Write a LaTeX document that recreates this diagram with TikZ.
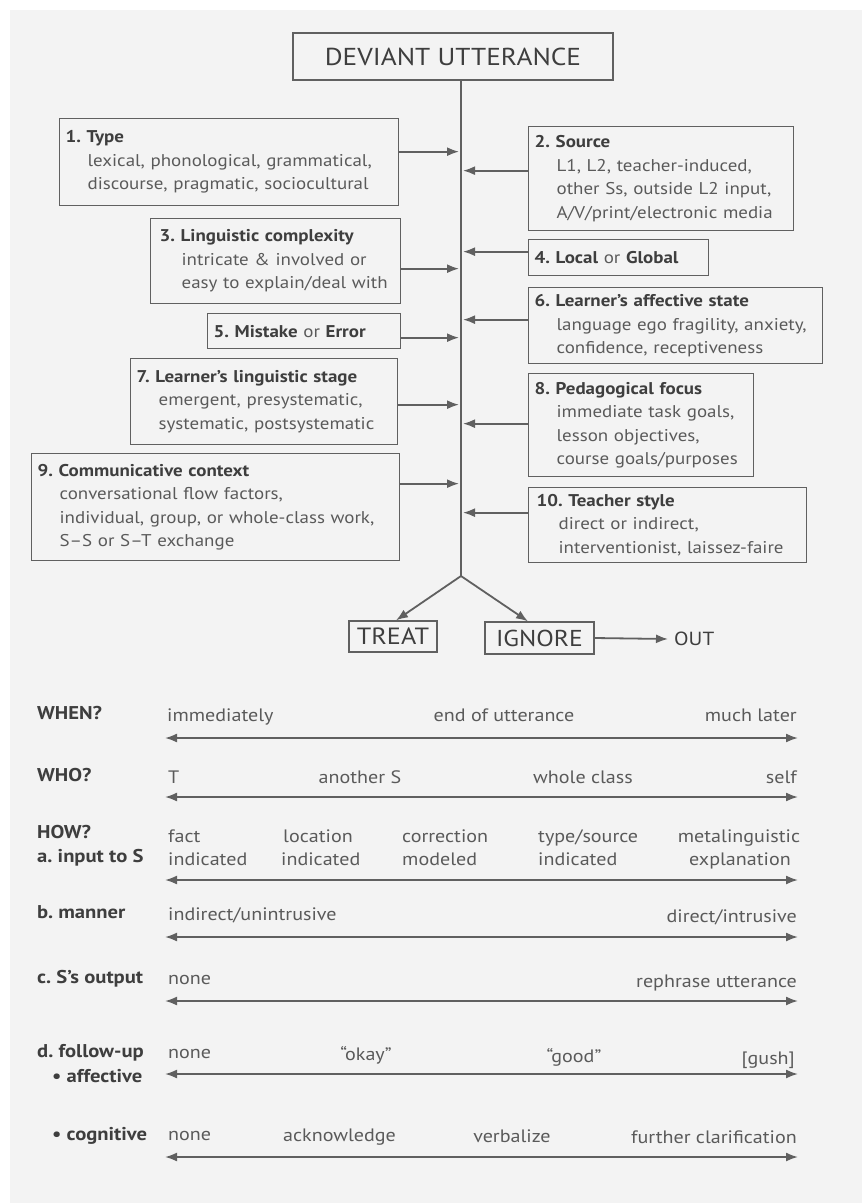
\documentclass[tikz,border=0pt]{standalone}
\usepackage{fontspec}
\setmainfont{PT Sans}[FakeStretch=1.115]
\usetikzlibrary{arrows.meta}
\frenchspacing
\definecolor{bg}{HTML}{F3F3F3}
\definecolor{ink}{HTML}{5A5A5A}
\definecolor{dark}{HTML}{3E3E3E}
\definecolor{linec}{HTML}{606060}
\newcommand\bxtitle[1]{{\bfseries\color{dark}#1}}
\newcommand\bxind{\hspace*{22pt}}
\begin{document}
\begin{tikzpicture}[x=1pt,y=-1pt,
  box/.style={draw=linec, line width=1.3pt, anchor=north west, align=left,
    inner xsep=6pt, inner ysep=2pt, text=ink,
    font=\fontsize{17}{23.5}\selectfont},
  bigbox/.style={draw=linec, line width=1.3pt, text=dark, inner sep=0pt,
    font=\fontsize{24.5}{24.5}\selectfont},
  arr/.style={draw=linec, line width=1.8pt, -{Latex[length=12pt,width=9pt]}},
  darr/.style={draw=linec, line width=1.8pt,
    {Latex[length=12pt,width=9pt]}-{Latex[length=12pt,width=9pt]}},
  lab/.style={anchor=base west, inner sep=0pt, text=dark,
    font=\fontsize{18.5}{20}\selectfont\bfseries},
  val/.style={inner sep=0pt, text=ink, font=\fontsize{18}{20}\selectfont},
  vw/.style={val, anchor=base west},
  vc/.style={val, anchor=base},
  ve/.style={val, anchor=base east}
]
\useasboundingbox (0,0) rectangle (862,1203);
\fill[white] (0,0) rectangle (862,1203);
\fill[bg] (10,10) rectangle (862,1203);

% ---------- top box and spine ----------
\node[bigbox, minimum width=320pt, minimum height=47pt] (dev) at (453,56.5) {DEVIANT UTTERANCE};
\coordinate (sp) at (461,576);
\draw[linec, line width=1.5pt] (dev.south -| sp) -- (sp);

% ---------- factor boxes ----------
\node[box, text width=327pt, minimum height=87pt] (b1) at (59,118)
  {\bxtitle{1. Type}\\\bxind\mbox{lexical, phonological, grammatical,}\\\bxind\mbox{discourse, pragmatic, sociocultural}};
\node[box, text width=253pt, minimum height=104pt] (b2) at (528,126)
  {\bxtitle{2. Source}\\\bxind\mbox{L1, L2, teacher-induced,}\\\bxind\mbox{other Ss, outside L2 input,}\\\bxind\mbox{A/V/print/electronic media}};
\node[box, text width=238pt, minimum height=85pt] (b3) at (150,218)
  {\hspace*{3pt}\bxtitle{3. Linguistic complexity}\\\hspace*{25pt}\mbox{intricate \& involved or}\\\hspace*{25pt}\mbox{easy to explain/deal with}};
\node[box, text width=168pt, minimum height=36pt] (b4) at (528,239)
  {\mbox{\bxtitle{4. Local} or \bxtitle{Global}}};
\node[box, text width=181pt, minimum height=35pt] (b5) at (207,313)
  {\mbox{\bxtitle{5. Mistake} or \bxtitle{Error}}};
\node[box, text width=282pt, minimum height=76pt] (b6) at (528,287)
  {\bxtitle{6. Learner’s affective state}\\\bxind\mbox{language ego fragility, anxiety,}\\\bxind\mbox{confidence, receptiveness}};
\node[box, text width=255pt, minimum height=86pt] (b7) at (130,358)
  {\bxtitle{7. Learner's linguistic stage}\\\bxind\mbox{emergent, presystematic,}\\\bxind\mbox{systematic, postsystematic}};
\node[box, text width=213pt, minimum height=103pt] (b8) at (528,373)
  {\bxtitle{8. Pedagogical focus}\\\bxind\mbox{immediate task goals,}\\\bxind\mbox{lesson objectives,}\\\bxind\mbox{course goals/purposes}};
\node[box, text width=356pt, minimum height=107pt] (b9) at (31,453)
  {\bxtitle{9. Communicative context}\\\bxind\mbox{conversational flow factors,}\\\bxind\mbox{individual, group, or whole-class work,}\\\bxind\mbox{S–S or S–T exchange}};
\node[box, text width=266pt, minimum height=75pt] (b10) at (528,487)
  {\hspace*{2pt}\bxtitle{10. Teacher style}\\\hspace*{24pt}\mbox{direct or indirect,}\\\hspace*{24pt}\mbox{interventionist, laissez-faire}};

% ---------- arrows into spine ----------
\draw[arr] ([yshift=10.5pt]b1.east) -- ([yshift=10.5pt,xshift=-2pt]b1.east -| sp);
\draw[arr] ([yshift=8pt]b2.west) -- ([yshift=8pt,xshift=2pt]b2.west -| sp);
\draw[arr] ([yshift=-7.5pt]b3.east) -- ([yshift=-7.5pt,xshift=-2pt]b3.east -| sp);
\draw[arr] ([yshift=6pt]b4.west) -- ([yshift=6pt,xshift=2pt]b4.west -| sp);
\draw[arr] ([yshift=-6.5pt]b5.east) -- ([yshift=-6.5pt,xshift=-2pt]b5.east -| sp);
\draw[arr] ([yshift=6pt]b6.west) -- ([yshift=6pt,xshift=2pt]b6.west -| sp);
\draw[arr] ([yshift=-3pt]b7.east) -- ([yshift=-3pt,xshift=-2pt]b7.east -| sp);
\draw[arr] ([yshift=1.5pt]b8.west) -- ([yshift=1.5pt,xshift=2pt]b8.west -| sp);
\draw[arr] ([yshift=23.5pt]b9.east) -- ([yshift=23.5pt,xshift=-2pt]b9.east -| sp);
\draw[arr] ([yshift=12.5pt]b10.west) -- ([yshift=12.5pt,xshift=2pt]b10.west -| sp);

% ---------- treat / ignore ----------
\node[bigbox, minimum width=88pt, minimum height=31pt, font=\fontsize{23.5}{23.5}\selectfont] (treat) at (393,636.5) {TREAT};
\node[bigbox, minimum width=109pt, minimum height=32pt, font=\fontsize{23}{23}\selectfont] (ignore) at (539.5,638) {IGNORE};
\node[inner sep=0pt, text=dark, font=\fontsize{19}{19}\selectfont, anchor=west] (out) at (674,639) {OUT};
\draw[arr] (sp) -- ([xshift=3pt]treat.north);
\draw[arr] (sp) -- ([xshift=-11.5pt]ignore.north);
\draw[arr] (ignore.east) -- ([xshift=-6pt]out.west);

% ---------- continua ----------
\node[lab] (when) at (37,719) {WHEN?};
\node[vw] (w1) at (167,721) {immediately};
\node[vc] (w2) at (504,721) {end of utterance};
\node[ve] (w3) at (797,721) {much later};
\coordinate (wa) at (165,738); \coordinate (wb) at (798,738);
\draw[darr] (wa) -- (wb);

\node[lab] (who) at (37,781) {WHO?};
\node[vw] (h1) at (168,783) {T};
\node[vc] (h2) at (360,783) {another S};
\node[vc] (h3) at (583,783) {whole class};
\node[ve] (h4) at (797,783) {self};
\coordinate (ha) at (165,797); \coordinate (hb) at (798,797);
\draw[darr] (ha) -- (hb);

\node[lab] (how) at (37,838) {HOW?};
\node[lab] (inp) at (37,862) {a. input to S};
\node[vw] (i1a) at (168,842) {fact};
\node[vw] (i1b) at (168,865) {indicated};
\node[vw] (i2a) at (283,842) {location};
\node[vw] (i2b) at (281,865) {indicated};
\node[vw] (i3a) at (402,842) {correction};
\node[vw] (i3b) at (402,865) {modeled};
\node[vw] (i4a) at (538,842) {type/source};
\node[vw] (i4b) at (538,865) {indicated};
\node[vc] (i5a) at (739,842) {metalinguistic};
\node[vc] (i5b) at (740,865) {explanation};
\coordinate (ia) at (165,880); \coordinate (ib) at (798,880);
\draw[darr] (ia) -- (ib);

\node[lab] (man) at (37,918) {b. manner};
\node[vw] (m1) at (168,920) {indirect/unintrusive};
\node[ve] (m2) at (797,922) {direct/intrusive};
\coordinate (ma) at (165,937); \coordinate (mb) at (798,937);
\draw[darr] (ma) -- (mb);

\node[lab] (outp) at (37,983) {c. S’s output};
\node[vw] (o1) at (168,984) {none};
\node[ve] (o2) at (797,987) {rephrase utterance};
\coordinate (oa) at (165,1001); \coordinate (ob) at (798,1001);
\draw[darr] (oa) -- (ob);

\node[lab] (fol) at (37,1057) {d. follow-up};
\node[lab] (aff) at (52,1082) {• affective};
\node[vw] (f1) at (168,1058) {none};
\node[vc] (f2) at (366,1060) {“okay”};
\node[vc] (f3) at (574,1062) {“good”};
\node[ve] (f4) at (795,1064) {[gush]};
\coordinate (fa) at (165,1074); \coordinate (fb) at (798,1074);
\draw[darr] (fa) -- (fb);

\node[lab] (cog) at (52,1140) {• cognitive};
\node[vw] (c1) at (168,1140) {none};
\node[vw] (c2) at (283,1141) {acknowledge};
\node[vc] (c3) at (512,1142) {verbalize};
\node[ve] (c4) at (797,1143) {further clarification};
\coordinate (ca) at (165,1157); \coordinate (cb) at (798,1157);
\draw[darr] (ca) -- (cb);
\end{tikzpicture}
\end{document}
